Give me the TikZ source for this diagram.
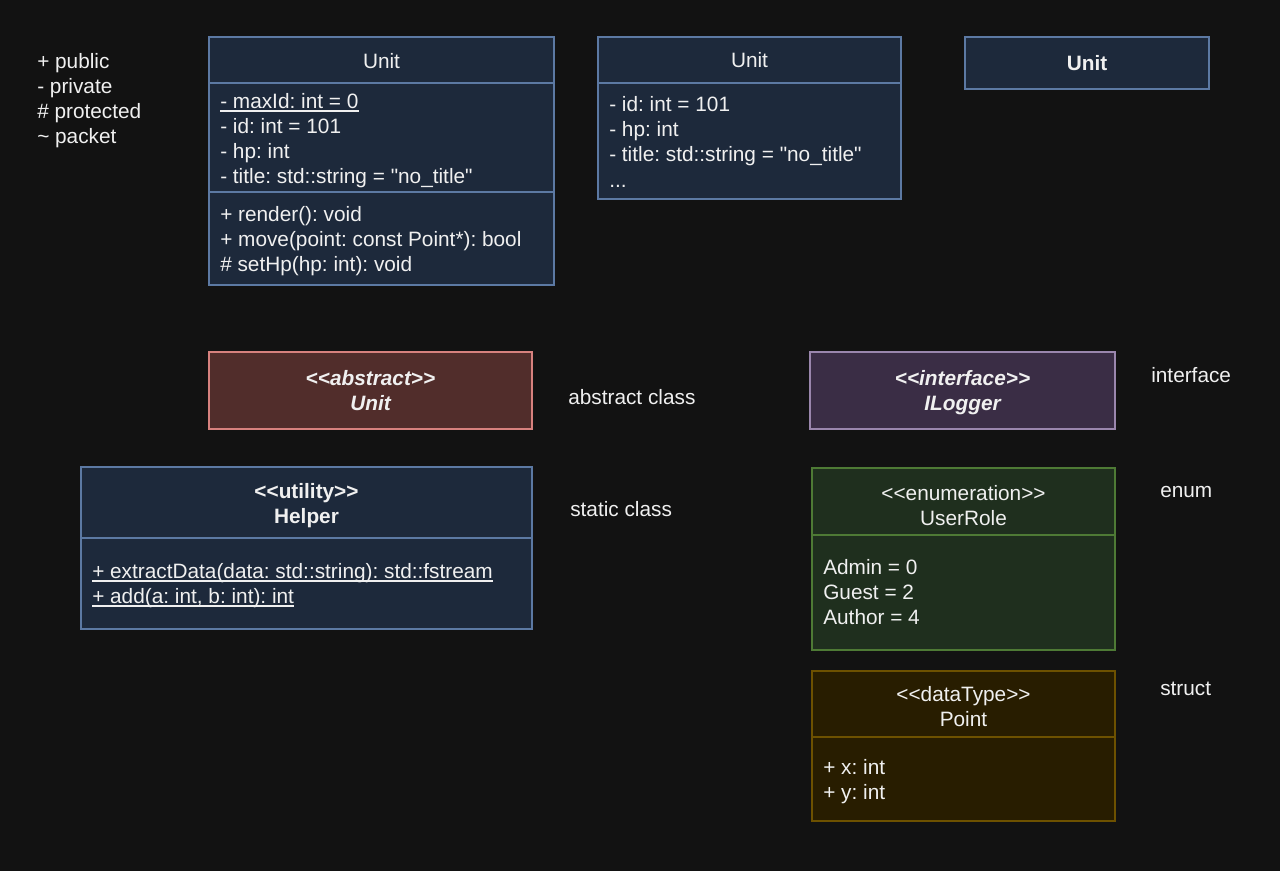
\documentclass[tikz,border=0pt]{standalone}
\usepackage{fontspec}
\setmainfont{Liberation Sans}[Ligatures=TeXOff]
\usetikzlibrary{fit}
\frenchspacing

\definecolor{bgc}{HTML}{121212}
\definecolor{txt}{HTML}{F0F0F0}
\definecolor{blueF}{HTML}{1D293B}
\definecolor{blueS}{HTML}{5C79A3}
\definecolor{redF}{HTML}{512D2B}
\definecolor{redS}{HTML}{D7817E}
\definecolor{purF}{HTML}{3A2D45}
\definecolor{purS}{HTML}{9A86AD}
\definecolor{grnF}{HTML}{1F2F1E}
\definecolor{grnS}{HTML}{4E7A35}
\definecolor{ylwF}{HTML}{281D00}
\definecolor{ylwS}{HTML}{6D5100}

\tikzset{
  box/.style={draw, line width=1.1pt, inner sep=0pt, outer sep=0pt},
  bluebox/.style={box, draw=blueS, fill=blueF},
  redbox/.style={box, draw=redS, fill=redF},
  purbox/.style={box, draw=purS, fill=purF},
  grnbox/.style={box, draw=grnS, fill=grnF},
  ylwbox/.style={box, draw=ylwS, fill=ylwF},
  div/.style={line width=1.1pt},
  uline/.style={draw=txt, line width=0.9pt},
  lbl/.style={anchor=west, inner sep=0pt, text=txt, text height=11pt, text depth=0pt,
    font=\fontsize{15.6}{18.75}\selectfont},
  ctr/.style={lbl, anchor=center},
}

\begin{document}
\begin{tikzpicture}[x=0.75pt, y=-0.75pt]
\useasboundingbox (0,0) rectangle (1280,871);
\fill[bgc] (0,0) rectangle (1280,871);

% visibility legend
\node[lbl] (lgPub) at (37,61) {+ public};
\node[lbl] (lgPriv) at (37,86) {- private};
\node[lbl] (lgProt) at (37,111) {\# protected};
\node[lbl] (lgPack) at (37,136) {\textasciitilde{} packet};

% full class
\node[bluebox, fit={(209,37)(554,285)}] (unitFull) {};
\draw[div, blueS] (209,83) -- (554,83);
\draw[div, blueS] (209,192) -- (554,192);
\node[ctr] (unitFullT) at (381.5,61) {Unit};
\node[lbl] (ufA1) at (220,101) {- maxId: int = 0};
\draw[uline] ([yshift=-1.8pt]ufA1.south west) -- ([yshift=-1.8pt]ufA1.south east);
\node[lbl] (ufA2) at (220,126) {- id: int = 101};
\node[lbl] (ufA3) at (220,151) {- hp: int};
\node[lbl] (ufA4) at (220,176) {- title: std::string = "no\_title"};
\node[lbl] (ufM1) at (220,214) {+ render(): void};
\node[lbl] (ufM2) at (220,239) {+ move(point: const Point*): bool};
\node[lbl] (ufM3) at (220,264) {\# setHp(hp: int): void};

% class with attributes only
\node[bluebox, fit={(598,37)(901,199)}] (unitAttr) {};
\draw[div, blueS] (598,83) -- (901,83);
\node[ctr] (unitAttrT) at (749.5,60.5) {Unit};
\node[lbl] (uaA1) at (609,104) {- id: int = 101};
\node[lbl] (uaA2) at (609,129) {- hp: int};
\node[lbl] (uaA3) at (609,154) {- title: std::string = "no\_title"};
\node[lbl] (uaA4) at (609,180) {...};

% compact class
\node[bluebox, fit={(965,37)(1209,89)}] (unitMin) {};
\node[ctr, font=\fontsize{15.6}{18.75}\selectfont\bfseries] (unitMinT) at (1087,63) {Unit};

% abstract class
\node[redbox, fit={(209,352)(532,429)}] (absBox) {};
\node[ctr, font=\fontsize{15.6}{18.75}\selectfont\bfseries\itshape] (absS) at (370.5,378.5) {<<abstract>>};
\node[ctr, font=\fontsize{15.6}{18.75}\selectfont\bfseries\itshape] (absN) at (370.5,403.5) {Unit};
\node[lbl] (absL) at (568,397) {abstract class};

% interface
\node[purbox, fit={(810,352)(1115,429)}] (ifBox) {};
\node[ctr, font=\fontsize{15.6}{18.75}\selectfont\bfseries\itshape] (ifS) at (962.5,378.5) {<<interface>>};
\node[ctr, font=\fontsize{15.6}{18.75}\selectfont\bfseries\itshape] (ifN) at (962.5,403.5) {ILogger};
\node[lbl] (ifL) at (1151,375) {interface};

% utility class
\node[bluebox, fit={(81,467)(532,629)}] (utBox) {};
\draw[div, blueS] (81,538) -- (532,538);
\node[ctr, font=\fontsize{15.6}{18.75}\selectfont\bfseries] (utS) at (306.5,491) {<<utility>>};
\node[ctr, font=\fontsize{15.6}{18.75}\selectfont\bfseries] (utN) at (306.5,516.5) {Helper};
\node[lbl] (utM1) at (92,571) {+ extractData(data: std::string): std::fstream};
\draw[uline] ([yshift=-1.8pt]utM1.south west) -- ([yshift=-1.8pt]utM1.south east);
\node[lbl] (utM2) at (92,596) {+ add(a: int, b: int): int};
\draw[uline] ([yshift=-1.8pt]utM2.south west) -- ([yshift=-1.8pt]utM2.south east);
\node[lbl] (utL) at (570,509) {static class};

% enumeration
\node[grnbox, fit={(812,468)(1115,650)}] (enBox) {};
\draw[div, grnS] (812,535) -- (1115,535);
\node[ctr] (enS) at (963.5,493) {<<enumeration>>};
\node[ctr] (enN) at (963.5,518.5) {UserRole};
\node[lbl] (enV1) at (823,567) {Admin = 0};
\node[lbl] (enV2) at (823,592) {Guest = 2};
\node[lbl] (enV3) at (823,617) {Author = 4};
\node[lbl] (enL) at (1160,490) {enum};

% data type
\node[ylwbox, fit={(812,671)(1115,821)}] (dtBox) {};
\draw[div, ylwS] (812,737) -- (1115,737);
\node[ctr] (dtS) at (963.5,694) {<<dataType>>};
\node[ctr] (dtN) at (963.5,719.5) {Point};
\node[lbl] (dtA1) at (823,767) {+ x: int};
\node[lbl] (dtA2) at (823,792) {+ y: int};
\node[lbl] (dtL) at (1160,688) {struct};
\end{tikzpicture}
\end{document}
